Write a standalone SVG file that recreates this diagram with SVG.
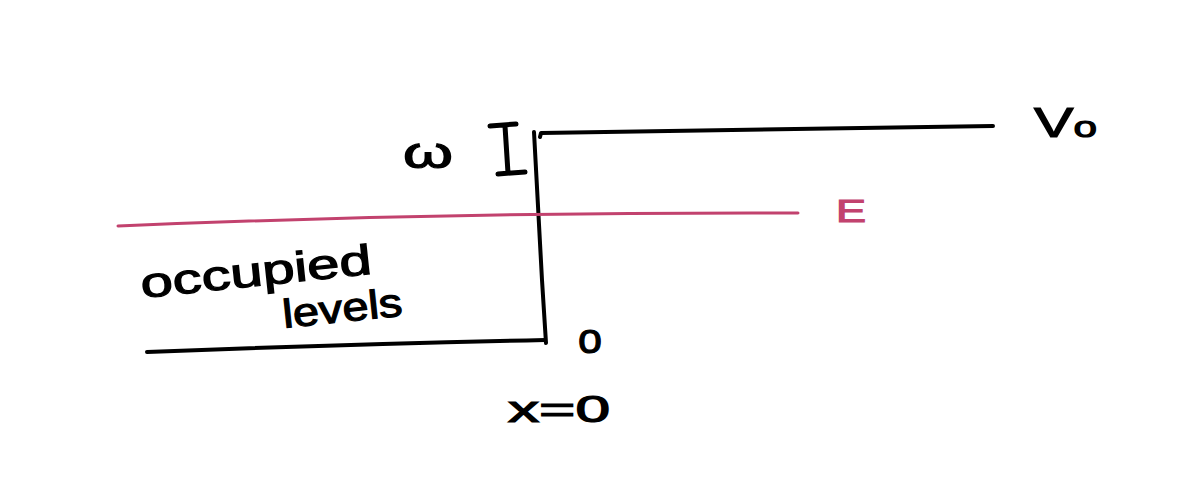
<svg xmlns="http://www.w3.org/2000/svg" width="1194" height="484" viewBox="0 0 1194 484">
<style>
.ink{fill:none;stroke:#000;stroke-width:4;stroke-linecap:round;stroke-linejoin:round}
.pink{fill:none;stroke:#c2426e;stroke-width:3;stroke-linecap:round}
.t{font-family:"Liberation Sans",Arial,sans-serif;fill:#000;stroke:#000;stroke-width:1.2}
</style>
<rect width="1194" height="484" fill="#fff"/>
<g id="connectors">
<path class="ink" d="M540,137 L541,133 Q700,130 993,126"/>
<path class="ink" d="M534,132 Q538,200 542,280 L546,343"/>
<path class="ink" d="M147,352 Q350,344 545,340"/>
<path class="pink" d="M118,226 Q450,212 798,213"/>
</g>
<g id="width-marker">
<path class="ink" d="M490,126 L516,124 M505,126 L508,173 M498,174 L525,172" style="stroke-width:5"/>
<text class="t" x="403" y="168" font-size="44" textLength="50" lengthAdjust="spacingAndGlyphs">ω</text>
</g>
<g id="V0">
<text class="t" x="1034" y="137" font-size="42" textLength="63" lengthAdjust="spacingAndGlyphs">V<tspan font-size="30">o</tspan></text>
</g>
<g id="E">
<text class="t" x="836" y="222" font-size="32" textLength="30" lengthAdjust="spacingAndGlyphs" style="fill:#c2426e;stroke:#c2426e">E</text>
</g>
<g id="occupied">
<text class="t" x="142" y="298" font-size="42" textLength="232" lengthAdjust="spacingAndGlyphs" transform="rotate(-6 142 298)">occupied</text>
<text class="t" x="284" y="328" font-size="40" textLength="120" lengthAdjust="spacingAndGlyphs" transform="rotate(-6 284 328)">levels</text>
</g>
<g id="zero">
<text class="t" x="578" y="353" font-size="42" textLength="24" lengthAdjust="spacingAndGlyphs">o</text>
</g>
<g id="x0">
<text class="t" x="508" y="422" font-size="36" textLength="102" lengthAdjust="spacingAndGlyphs">x=0</text>
</g>
</svg>
